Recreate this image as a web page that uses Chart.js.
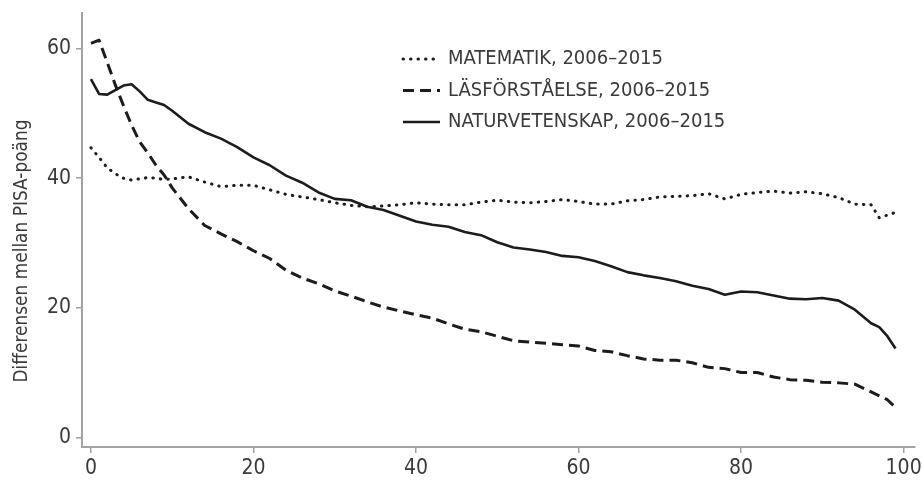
<!DOCTYPE html>
<html><head><meta charset="utf-8">
<script src="https://cdn.jsdelivr.net/npm/chart.js@4/dist/chart.umd.min.js"></script>
<style>html,body{margin:0;padding:0;background:#fff}#wrap{width:922px;height:482px;position:relative}</style>
</head><body><div id="wrap"><canvas id="c" width="922" height="482"></canvas></div>
<script>
const xs = [0,1,2,3,4,5,6,7,8,9,10,12,14,16,18,20,22,24,26,28,30,32,34,36,38,40,42,44,46,48,50,52,54,56,58,60,62,64,66,68,70,72,74,76,78,80,82,84,86,88,90,92,94,96,97,98,99];
const matematik = [44.7,43.2,41.6,40.7,40.0,39.7,39.9,40.1,40.0,39.8,39.9,40.2,39.4,38.7,38.9,38.9,38.2,37.5,37.1,36.7,36.2,35.8,35.6,35.7,35.9,36.2,36.0,35.9,35.9,36.3,36.6,36.3,36.2,36.4,36.7,36.4,36.0,36.0,36.5,36.7,37.1,37.2,37.3,37.6,36.8,37.5,37.8,38.0,37.7,37.9,37.6,37.0,36.0,35.9,33.9,34.3,34.7];
const lasforstaelse = [60.8,61.3,57.9,54.4,51.2,48.2,45.6,43.9,42.0,40.5,38.5,35.3,32.7,31.4,30.2,28.8,27.6,25.8,24.6,23.7,22.6,21.8,20.9,20.1,19.5,18.9,18.4,17.5,16.7,16.3,15.6,14.9,14.7,14.5,14.3,14.1,13.4,13.2,12.6,12.1,11.9,11.9,11.5,10.8,10.6,10.0,10.0,9.3,8.9,8.8,8.5,8.4,8.2,7.0,6.4,5.8,4.6];
const naturvetenskap = [55.3,53.0,52.9,53.6,54.3,54.5,53.4,52.1,51.7,51.3,50.4,48.4,47.1,46.1,44.8,43.2,42.0,40.4,39.3,37.8,36.8,36.6,35.6,35.1,34.2,33.3,32.8,32.5,31.7,31.2,30.1,29.3,29.0,28.6,28.0,27.8,27.2,26.4,25.5,25.0,24.6,24.1,23.4,22.9,22.0,22.5,22.4,21.9,21.4,21.3,21.5,21.1,19.7,17.6,17.0,15.6,13.7];
const seriesLabels = ['MATEMATIK, 2006–2015','LÄSFÖRSTÅELSE, 2006–2015','NATURVETENSKAP, 2006–2015'];
const xTicks = [0,20,40,60,80,100];
const yTicks = [0,20,40,60];
const yTitle = 'Differensen mellan PISA-poäng';

const FONT = '"Liberation Sans Narrow", "DejaVu Sans Condensed", "Arial Narrow", sans-serif';
const TEXT = '#3a3a3a';
const AXIS = '#a3a3a3';
const LINE = '#1c1c1c';

const pts = arr => xs.map((x,i)=>({x, y: arr[i]}));

const insideLegend = {
  id: 'insideLegend',
  afterDraw(chart){
    const {ctx, chartArea} = chart;
    const x0 = chartArea.left + 321, x1 = x0 + 37, tx = x1 + 8;
    const y0 = chartArea.top + 46, dy = 31.5;
    ctx.save();
    chart.data.datasets.forEach((ds,i)=>{
      const y = y0 + i*dy;
      ctx.beginPath();
      ctx.setLineDash(ds.borderDash || []);
      ctx.lineCap = ds.borderCapStyle || 'butt';
      ctx.lineWidth = ds.borderWidth;
      ctx.strokeStyle = ds.borderColor;
      ctx.moveTo(x0, y); ctx.lineTo(x1, y); ctx.stroke();
      ctx.setLineDash([]);
      ctx.fillStyle = TEXT;
      ctx.font = '20px ' + FONT;
      ctx.textBaseline = 'middle';
      ctx.textAlign = 'left';
      ctx.fillText(ds.label, tx, y);
    });
    ctx.restore();
  }
};

const yTitlePlugin = {
  id: 'yTitlePlugin',
  afterDraw(chart){
    const {ctx, chartArea} = chart;
    const cy = (chartArea.top + chartArea.bottom)/2 + 21;
    ctx.save();
    ctx.translate(22, cy);
    ctx.rotate(-Math.PI/2);
    ctx.fillStyle = TEXT;
    ctx.font = '20px ' + FONT;
    ctx.textAlign = 'center';
    ctx.textBaseline = 'middle';
    const w = ctx.measureText(yTitle).width;
    const k = Math.min(1, 263 / w);
    ctx.scale(k, 1);
    ctx.fillText(yTitle, 0, 0);
    ctx.restore();
  }
};

new Chart(document.getElementById('c'), {
  type: 'line',
  data: {
    datasets: [
      {label: seriesLabels[0], data: pts(matematik), borderColor: LINE, borderWidth: 3, borderDash: [0.5, 7], borderCapStyle: 'round', pointRadius: 0, fill: false},
      {label: seriesLabels[1], data: pts(lasforstaelse), borderColor: LINE, borderWidth: 3, borderDash: [11, 6], borderCapStyle: 'butt', pointRadius: 0, fill: false},
      {label: seriesLabels[2], data: pts(naturvetenskap), borderColor: LINE, borderWidth: 2.6, borderDash: [], borderCapStyle: 'butt', pointRadius: 0, fill: false}
    ]
  },
  options: {
    responsive: false,
    animation: false,
    devicePixelRatio: 1,
    layout: {padding: {top: 13, right: 7, left: 0, bottom: 0}},
    plugins: {legend: {display: false}, tooltip: {enabled: false}},
    elements: {line: {tension: 0, borderJoinStyle: 'round'}},
    scales: {
      x: {
        type: 'linear', min: -1.1, max: 101.4,
        afterBuildTicks: s => { s.ticks = xTicks.map(v => ({value: v})); },
        afterFit: s => { s.height = 35; s.paddingLeft = 0; s.paddingRight = 0; },
        grid: {drawOnChartArea: false, drawTicks: true, tickLength: 6, color: AXIS, lineWidth: 1.5},
        border: {display: true, color: AXIS, width: 2},
        ticks: {font: {family: FONT, size: 21}, color: TEXT, padding: 3, maxRotation: 0, autoSkip: false}
      },
      y: {
        type: 'linear', min: -1.5, max: 65.5,
        afterBuildTicks: s => { s.ticks = yTicks.map(v => ({value: v})); },
        afterFit: s => { s.width = 82; s.paddingTop = 0; s.paddingBottom = 0; },
        grid: {drawOnChartArea: false, drawTicks: true, tickLength: 6, color: AXIS, lineWidth: 1.5},
        border: {display: true, color: AXIS, width: 2},
        ticks: {font: {family: FONT, size: 21}, color: TEXT, padding: 5, autoSkip: false}
      }
    }
  },
  plugins: [insideLegend, yTitlePlugin]
});
</script>
</body></html>
